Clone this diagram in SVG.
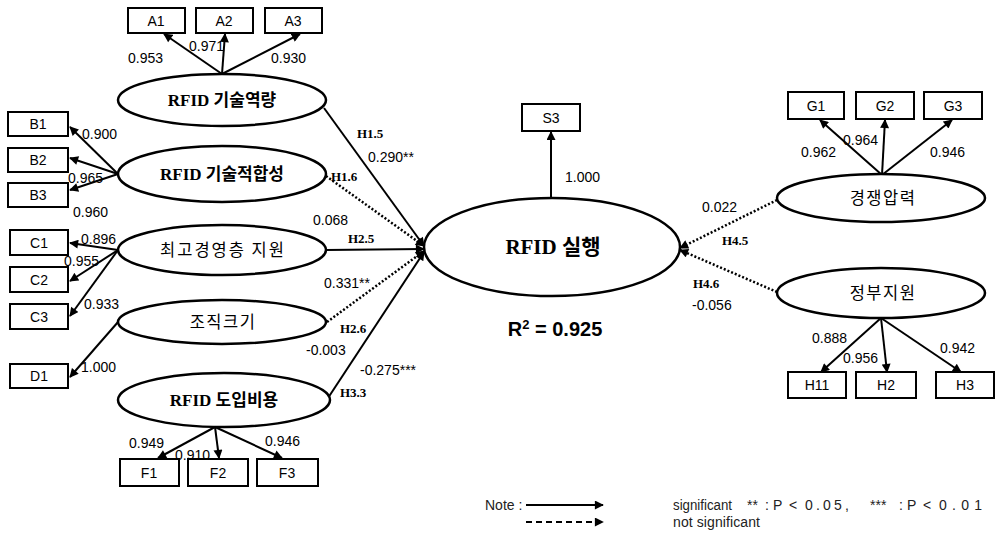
<svg xmlns="http://www.w3.org/2000/svg" width="995" height="534" viewBox="0 0 995 534">
<defs>
<marker id="ah" viewBox="0 0 10 10" refX="9" refY="5" markerWidth="10" markerHeight="9" markerUnits="userSpaceOnUse" orient="auto"><path d="M0,0 L10,5 L0,10 z" fill="#000"/></marker>
</defs>
<style>
.box{fill:#fff;stroke:#000;stroke-width:2}
.ell{fill:#fff;stroke:#000;stroke-width:2.5}
.bt{font-family:"Liberation Sans",Arial,sans-serif;font-size:14px;fill:#000;text-anchor:middle}
.num{font-family:"Liberation Sans",Arial,sans-serif;font-size:14px;fill:#000}
.kt{font-family:"Noto Sans CJK KR",sans-serif;font-size:16.5px;fill:#000;text-anchor:middle;letter-spacing:1.5px}
.rt{font-family:"Liberation Serif","Noto Sans CJK KR",serif;font-size:17px;font-weight:bold;fill:#000;text-anchor:middle}
.hl{font-family:"Liberation Serif",serif;font-size:13px;font-weight:bold;fill:#000}
.ln{stroke:#000;stroke-width:2;fill:none;marker-end:url(#ah)}
.dt{stroke:#000;stroke-width:2.5;fill:none;stroke-dasharray:2,2;marker-end:url(#ah)}
.lg{font-family:"Liberation Sans",Arial,sans-serif;font-size:14px;fill:#222}
</style>
<rect width="995" height="534" fill="#fff"/>

<g id="connectors">
<line class="ln" x1="222" y1="74" x2="164" y2="34"/>
<line class="ln" x1="222" y1="74" x2="225" y2="34"/>
<line class="ln" x1="222" y1="74" x2="300" y2="34"/>
<line class="ln" x1="118" y1="174" x2="70" y2="127"/>
<line class="ln" x1="118" y1="174" x2="70" y2="158"/>
<line class="ln" x1="118" y1="174" x2="70" y2="190"/>
<line class="ln" x1="118" y1="250" x2="70" y2="243"/>
<line class="ln" x1="118" y1="250" x2="70" y2="281"/>
<line class="ln" x1="118" y1="250" x2="70" y2="316"/>
<line class="ln" x1="118" y1="322" x2="70" y2="377"/>
<line class="ln" x1="215" y1="427" x2="158" y2="458"/>
<line class="ln" x1="215" y1="427" x2="219" y2="458"/>
<line class="ln" x1="215" y1="427" x2="282" y2="458"/>
<line class="ln" x1="551" y1="198" x2="551" y2="132"/>
<line class="ln" x1="882" y1="175" x2="820" y2="120"/>
<line class="ln" x1="882" y1="175" x2="885" y2="120"/>
<line class="ln" x1="882" y1="175" x2="952" y2="120"/>
<line class="ln" x1="881" y1="318" x2="821" y2="372"/>
<line class="ln" x1="881" y1="318" x2="887" y2="372"/>
<line class="ln" x1="881" y1="318" x2="961" y2="372"/>
<line class="ln" x1="324" y1="108" x2="424" y2="246"/>
<line class="dt" x1="326" y1="176" x2="424" y2="246"/>
<line class="ln" x1="326" y1="250" x2="424" y2="249"/>
<line class="dt" x1="327" y1="322" x2="424" y2="251"/>
<line class="ln" x1="328" y1="398" x2="424" y2="252"/>
<line class="dt" x1="777" y1="200" x2="680" y2="248"/>
<line class="dt" x1="777" y1="292" x2="680" y2="250"/>
</g>

<g id="labels">
<text class="num" x="128" y="63">0.953</text>
<text class="num" x="189" y="51">0.971</text>
<text class="num" x="271" y="63">0.930</text>
<text class="num" x="82" y="139">0.900</text>
<text class="num" x="68" y="183">0.965</text>
<text class="num" x="73" y="217">0.960</text>
<text class="num" x="81" y="244">0.896</text>
<text class="num" x="64" y="266">0.955</text>
<text class="num" x="84" y="309">0.933</text>
<text class="num" x="81" y="372">1.000</text>
<text class="num" x="129" y="448">0.949</text>
<text class="num" x="175" y="460">0.910</text>
<text class="num" x="265" y="446">0.946</text>
<text class="num" x="565" y="182">1.000</text>
<text class="num" x="801" y="157">0.962</text>
<text class="num" x="843" y="145">0.964</text>
<text class="num" x="930" y="157">0.946</text>
<text class="num" x="812" y="343">0.888</text>
<text class="num" x="843" y="363">0.956</text>
<text class="num" x="940" y="353">0.942</text>
<text class="hl" x="357" y="138">H1.5</text>
<text class="num" x="368" y="162">0.290**</text>
<text class="hl" x="331" y="181">H1.6</text>
<text class="num" x="313" y="225">0.068</text>
<text class="hl" x="348" y="243">H2.5</text>
<text class="num" x="324" y="288">0.331**</text>
<text class="hl" x="340" y="333">H2.6</text>
<text class="num" x="306" y="355">-0.003</text>
<text class="num" x="360" y="375">-0.275***</text>
<text class="hl" x="340" y="397">H3.3</text>
<text class="num" x="702" y="212">0.022</text>
<text class="hl" x="722" y="245">H4.5</text>
<text class="hl" x="693" y="288">H4.6</text>
<text class="num" x="692" y="310">-0.056</text>
<text x="555" y="336" font-family="Liberation Sans,Arial,sans-serif" font-size="20" font-weight="bold" text-anchor="middle">R<tspan font-size="13" dy="-7">2</tspan><tspan dy="7"> = 0.925</tspan></text>
</g>

<g id="A1"><rect class="box" x="128" y="8" width="57" height="25"/><text class="bt" x="156" y="26">A1</text></g>
<g id="A2"><rect class="box" x="196" y="8" width="57" height="25"/><text class="bt" x="224" y="26">A2</text></g>
<g id="A3"><rect class="box" x="265" y="8" width="57" height="25"/><text class="bt" x="293" y="26">A3</text></g>
<g id="B1"><rect class="box" x="8" y="112" width="60" height="24"/><text class="bt" x="38" y="129">B1</text></g>
<g id="B2"><rect class="box" x="8" y="148" width="60" height="24"/><text class="bt" x="38" y="165">B2</text></g>
<g id="B3"><rect class="box" x="8" y="183" width="60" height="24"/><text class="bt" x="38" y="200">B3</text></g>
<g id="C1"><rect class="box" x="10" y="230" width="58" height="25"/><text class="bt" x="39" y="248">C1</text></g>
<g id="C2"><rect class="box" x="10" y="267" width="58" height="25"/><text class="bt" x="39" y="285">C2</text></g>
<g id="C3"><rect class="box" x="10" y="304" width="58" height="25"/><text class="bt" x="39" y="322">C3</text></g>
<g id="D1"><rect class="box" x="10" y="364" width="58" height="24"/><text class="bt" x="39" y="381">D1</text></g>
<g id="F1"><rect class="box" x="120" y="459" width="59" height="27"/><text class="bt" x="149" y="478">F1</text></g>
<g id="F2"><rect class="box" x="188" y="459" width="60" height="27"/><text class="bt" x="218" y="478">F2</text></g>
<g id="F3"><rect class="box" x="257" y="459" width="61" height="27"/><text class="bt" x="287" y="478">F3</text></g>
<g id="S3"><rect class="box" x="522" y="104" width="58" height="27"/><text class="bt" x="551" y="123">S3</text></g>
<g id="G1"><rect class="box" x="788" y="92" width="56" height="27"/><text class="bt" x="816" y="111">G1</text></g>
<g id="G2"><rect class="box" x="856" y="92" width="58" height="27"/><text class="bt" x="885" y="111">G2</text></g>
<g id="G3"><rect class="box" x="924" y="92" width="58" height="27"/><text class="bt" x="953" y="111">G3</text></g>
<g id="H11"><rect class="box" x="788" y="372" width="58" height="26"/><text class="bt" x="817" y="390">H11</text></g>
<g id="H2"><rect class="box" x="856" y="372" width="60" height="26"/><text class="bt" x="886" y="390">H2</text></g>
<g id="H3"><rect class="box" x="936" y="372" width="58" height="26"/><text class="bt" x="965" y="390">H3</text></g>

<g id="tech-capability"><ellipse class="ell" cx="222" cy="100" rx="104" ry="26"/><text class="rt" x="222" y="106">RFID 기술역량</text></g>
<g id="tech-fit"><ellipse class="ell" cx="222" cy="174" rx="104" ry="28"/><text class="rt" x="222" y="180">RFID 기술적합성</text></g>
<g id="top-mgmt"><ellipse class="ell" cx="222" cy="250" rx="104" ry="25"/><text class="kt" x="223" y="256" style="letter-spacing:2px">최고경영층 지원</text></g>
<g id="org-size"><ellipse class="ell" cx="222" cy="322" rx="104" ry="22"/><text class="kt" x="223" y="328">조직크기</text></g>
<g id="adopt-cost"><ellipse class="ell" cx="224" cy="400" rx="106" ry="27"/><text class="rt" x="224" y="406">RFID 도입비용</text></g>
<g id="rfid-impl"><ellipse class="ell" cx="552" cy="247" rx="128" ry="49"/><text class="rt" x="553" y="254" style="font-size:21px">RFID 실행</text></g>
<g id="competition"><ellipse class="ell" cx="881" cy="198" rx="104" ry="24"/><text class="kt" x="883" y="204">경쟁압력</text></g>
<g id="gov-support"><ellipse class="ell" cx="881" cy="293" rx="104" ry="25"/><text class="kt" x="883" y="299">정부지원</text></g>

<g id="legend">
<text class="lg" x="485" y="510">Note :</text>
<line class="ln" x1="526" y1="505" x2="603" y2="505" stroke-width="1.5"/>
<line class="ln" x1="526" y1="522" x2="603" y2="522" stroke-width="1.5" stroke-dasharray="6,4"/>
<text class="lg" x="673" y="510" textLength="59" lengthAdjust="spacingAndGlyphs">significant</text>
<text class="lg" y="510"><tspan x="747">**</tspan><tspan x="765">:</tspan><tspan x="773">P</tspan><tspan x="789">&lt;</tspan><tspan x="870">***</tspan><tspan x="899">:</tspan><tspan x="907">P</tspan><tspan x="923">&lt;</tspan></text>
<text class="lg" x="805" y="510" textLength="44" lengthAdjust="spacing">0.05,</text>
<text class="lg" x="939" y="510" textLength="43" lengthAdjust="spacing">0.01</text>
<text class="lg" x="673" y="527" textLength="87" lengthAdjust="spacing">not  significant</text>
</g>
</svg>
